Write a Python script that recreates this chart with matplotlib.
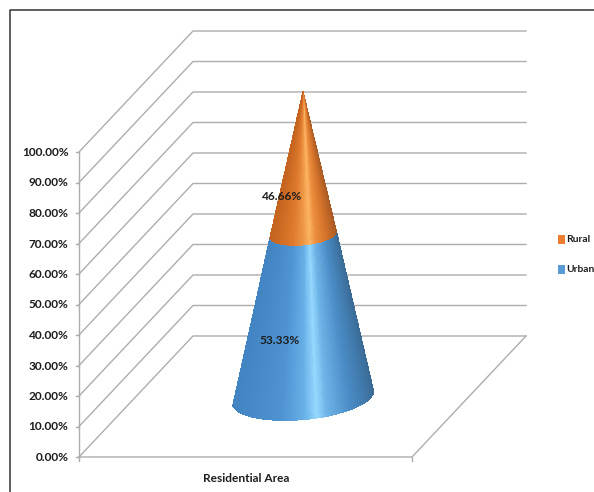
import numpy as np
import matplotlib
matplotlib.use('Agg')
import matplotlib.pyplot as plt
from matplotlib.colors import LinearSegmentedColormap
from matplotlib.patches import Rectangle

plt.rcParams['font.family'] = ['Lato', 'DejaVu Sans']

TICK_VALUES = [0, 10, 20, 30, 40, 50, 60, 70, 80, 90, 100]
TICK_LABELS = ['0.00%', '10.00%', '20.00%', '30.00%', '40.00%', '50.00%',
               '60.00%', '70.00%', '80.00%', '90.00%', '100.00%']
CATEGORY = 'Residential Area'
SERIES = ['Urban', 'Rural']
VALUES = [53.33, 46.66]
LABELS = ['53.33%', '46.66%']

# 3d box projected onto the page, in pixels
FRONT_X, FRONT_RIGHT = 79, 412
FRONT_Y0, UNIT = 457, 3.05
DEPTH_X, DEPTH_Y = 114, -121
GRID = '#adadad'
TEXT = '#1c1c1c'
FONT = 8.6

BLUE = [(0, '#4285c2'), (.3, '#4f93d2'), (.46, '#68b0e8'), (.55, '#96d8fe'),
        (.63, '#6db2e6'), (.8, '#4b8cc6'), (.93, '#3f77a8'), (1, '#3a6a94')]
ORANGE = [(0, '#c4641f'), (.3, '#e07b2e'), (.46, '#f09a48'), (.55, '#fcb564'),
          (.64, '#ec8f3e'), (.82, '#d4722a'), (1, '#a85a24')]


def front_y(v):
    return FRONT_Y0 - UNIT * v


fig = plt.figure(figsize=(5.94, 4.92), dpi=100)
ax = fig.add_axes([0, 0, 1, 1])
ax.set_xlim(0, 594)
ax.set_ylim(492, 0)
ax.axis('off')

# outer chart border
ax.plot([9.5, 9.5, 594], [492, 9.5, 9.5], color='#333333', lw=1.1)

# walls and floor
for v, lab in zip(TICK_VALUES, TICK_LABELS):
    y = front_y(v)
    ax.plot([FRONT_X, FRONT_X + DEPTH_X, FRONT_RIGHT + DEPTH_X],
            [y, y + DEPTH_Y, y + DEPTH_Y], color=GRID, lw=1.0, zorder=1)
    ax.plot([FRONT_X - 3, FRONT_X], [y, y], color=GRID, lw=1, zorder=1)
    ax.text(68.5, y + 0.5, lab, ha='right', va='center', fontsize=FONT,
            fontweight='bold', color=TEXT)
ax.plot([FRONT_X, FRONT_X], [front_y(0), front_y(100)], color=GRID, lw=1.0, zorder=1)
ax.plot([FRONT_X, FRONT_RIGHT, FRONT_RIGHT + DEPTH_X],
        [FRONT_Y0, FRONT_Y0, FRONT_Y0 + DEPTH_Y], color=GRID, lw=1.0, zorder=1)
for x in [FRONT_X, FRONT_RIGHT]:
    ax.plot([x, x], [FRONT_Y0, FRONT_Y0 + 4], color=GRID, lw=1, zorder=1)

ax.text(246, 478, CATEGORY, ha='center', va='center',
        fontsize=FONT, fontweight='bold', color=TEXT)

# cone: stacked sections that narrow towards the tip
cx = FRONT_X + DEPTH_X / 2 + (FRONT_RIGHT - FRONT_X) / 2 + 0.5
base_y = FRONT_Y0 + DEPTH_Y / 2
total = sum(VALUES)
t = np.linspace(0, np.pi, 241)
rx, ry = 70 * np.cos(t) + 6 * np.sin(t), -8 * np.cos(t) + 22 * np.sin(t)
shade = ((1 + np.cos(t[:-1])) + (1 + np.cos(t[1:]))) / 4

bottom = 0
for val, stops, lab, lab_x, lab_y in zip(VALUES, [BLUE, ORANGE], LABELS, [279.5, 282], [340.5, 196]):
    top = bottom + val
    levels = np.array([bottom, top])
    radius = 1 - levels / total
    X = cx + np.outer(radius, rx)
    Y = base_y - UNIT * levels[:, None] + np.outer(radius, ry)
    cmap = LinearSegmentedColormap.from_list('cone', stops)
    ax.pcolormesh(X, Y, shade[None, :], cmap=cmap, vmin=0, vmax=1,
                  shading='flat', edgecolors='face', linewidth=0.2, zorder=3)
    ax.text(lab_x, lab_y, lab, ha='center', va='center', fontsize=FONT,
            fontweight='bold', color=TEXT, zorder=4)
    bottom = top

# legend, last series on top
for name, col, y in zip(SERIES[::-1], ['#ed7d31', '#5b9bd5'], [239.5, 269]):
    ax.add_patch(Rectangle((557.5, y - 4.5), 7.5, 9, color=col, lw=0))
    ax.text(566.5, y, name, ha='left', va='center', fontsize=7.4,
            fontweight='bold', color=TEXT)

fig.savefig('out.png', dpi=100)
